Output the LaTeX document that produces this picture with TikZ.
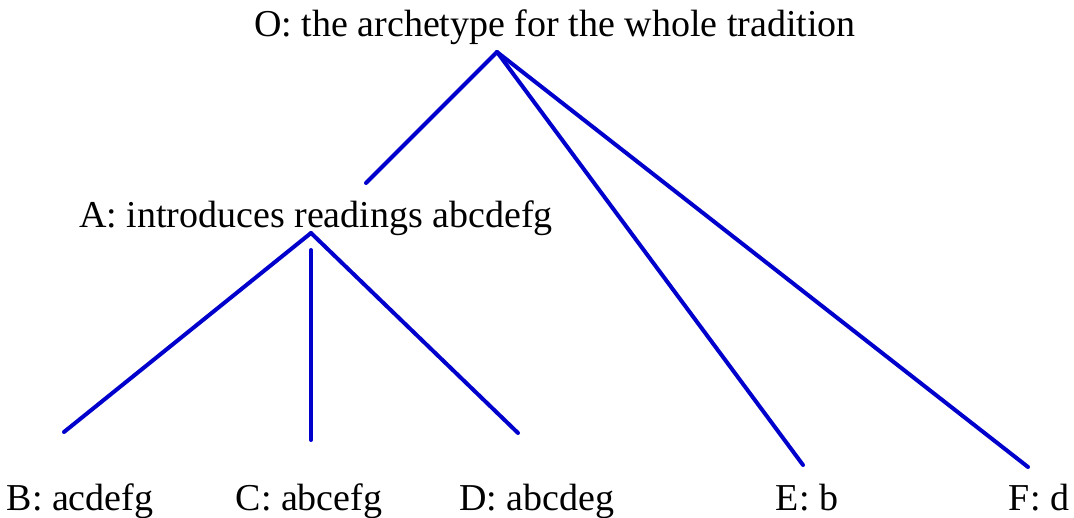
\documentclass[tikz,border=0pt]{standalone}
\usepackage{fontspec}
\setmainfont{Liberation Serif}
\usetikzlibrary{positioning}
\definecolor{stemblue}{RGB}{0,0,205}
\tikzset{
  stemtext/.style={
    inner sep=0pt,
    anchor=base,
    font=\fontsize{38}{44}\selectfont
  },
  stemline/.style={
    draw=stemblue,
    line width=4pt,
    line cap=round
  }
}
\begin{document}
\begin{tikzpicture}[x=1pt,y=1pt]
  \useasboundingbox (0,0) rectangle (1074,517);
  \node[stemtext] (archO) at (555,480) {O: the archetype for the whole tradition};
  \node[stemtext] (witA) at (316,289) {A: introduces readings abcdefg};
  \node[stemtext] (witB) at (80,7) {B: acdefg};
  \node[stemtext] (witC) at (309,7) {C: abcefg};
  \node[stemtext] (witD) at (537,7) {D: abcdeg};
  \node[stemtext] (witE) at (807,7) {E: b};
  \node[stemtext] (witF) at (1039,7) {F: d};
  \coordinate (topO) at (497,465);
  \coordinate (endA) at (366,334);
  \coordinate (endE) at (803,52);
  \coordinate (endF) at (1028,50);
  \coordinate (topA) at (311,284);
  \coordinate (topC) at (311,267);
  \coordinate (endB) at (64,85);
  \coordinate (endC) at (311,77);
  \coordinate (endD) at (518,84);
  \draw[stemline] (topO) -- (endA);
  \draw[stemline] (topO) -- (endE);
  \draw[stemline] (topO) -- (endF);
  \draw[stemline] (topA) -- (endB);
  \draw[stemline] (topC) -- (endC);
  \draw[stemline] (topA) -- (endD);
\end{tikzpicture}
\end{document}
